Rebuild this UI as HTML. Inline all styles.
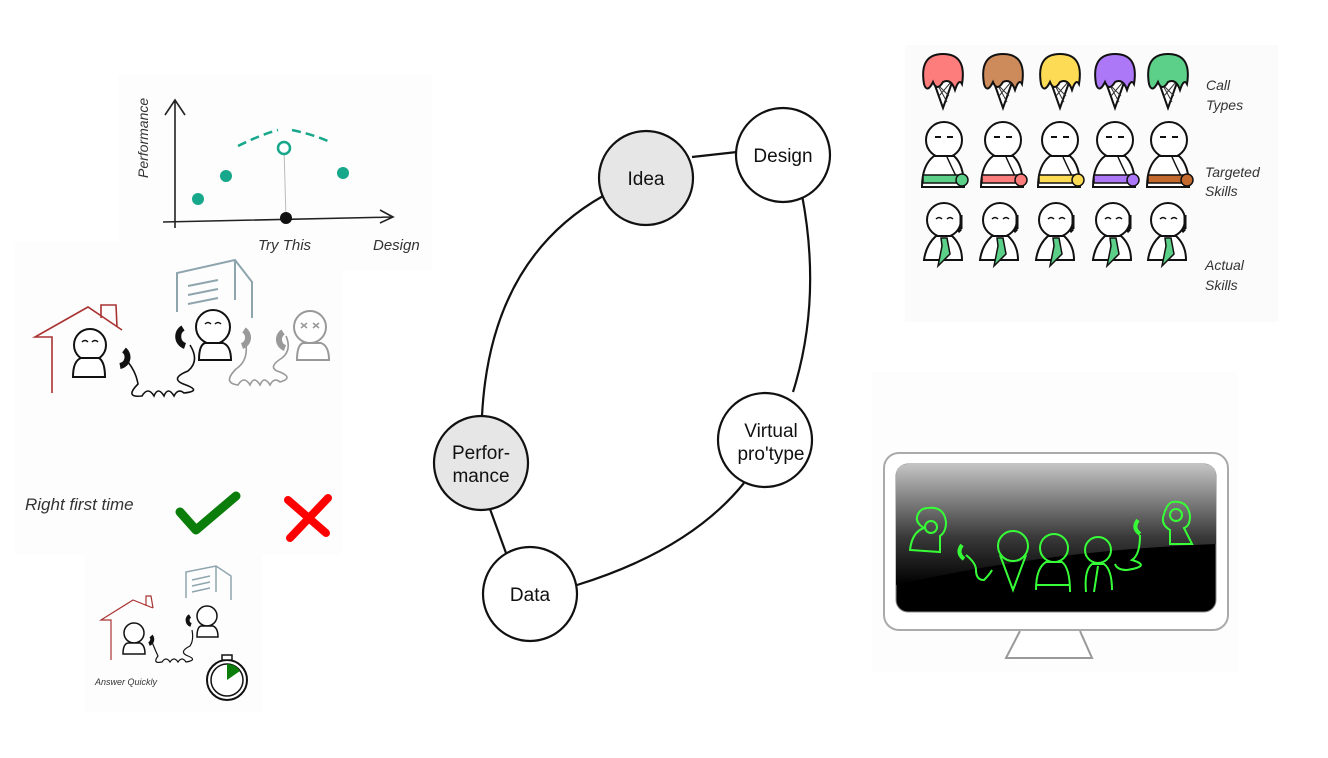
<!DOCTYPE html>
<html><head><style>
html,body{margin:0;padding:0;background:#fff;}
svg{display:block}
.hand{font-family:"Liberation Sans",sans-serif;font-style:italic;fill:#333}
.node{font-family:"Liberation Sans",sans-serif;font-size:19px;fill:#111;text-anchor:middle}
</style></head><body>
<svg width="1328" height="758" viewBox="0 0 1328 758" xmlns="http://www.w3.org/2000/svg">
<defs>
<linearGradient id="scr" x1="0" y1="0" x2="0" y2="1">
<stop offset="0" stop-color="#c4c4c4"/><stop offset="0.6" stop-color="#3a3a3a"/><stop offset="1" stop-color="#000"/>
</linearGradient>
<g id="cone">
<path d="M-12,0 L0,34 L12,0" fill="#fff" stroke="#111" stroke-width="2"/>
<path d="M-6,10 L6,22 M-4,22 L8,8 M-8,6 L4,28" stroke="#333" stroke-width="1"/>
</g>
<path id="scoop" d="M-19,30 Q-24,0 0,0 Q24,0 19,30 Q16,24 12,36 Q8,24 0,28 Q-6,38 -10,28 Q-16,40 -19,30Z" stroke="#111" stroke-width="2"/>
<g id="tperson">
<circle cx="0" cy="0" r="18" fill="#fff" stroke="#111" stroke-width="2"/>
<path d="M-9,-3 h6 M3,-3 h6" stroke="#111" stroke-width="2"/>
<path d="M-22,47 Q-22,25 -10,16 L10,16 Q20,25 20,47 Z" fill="#fff" stroke="#111" stroke-width="2"/>
<path d="M3,17 Q8,28 12,36" stroke="#111" stroke-width="1.5" fill="none"/>
</g>
<g id="aperson">
<circle cx="0" cy="0" r="17" fill="#fff" stroke="#111" stroke-width="2"/>
<path d="M-8,-1 q3,-3 6,0 M3,-1 q3,-3 6,0" stroke="#111" stroke-width="1.5" fill="none"/>
<path d="M17,-5 v14 M17,9 l-3,3" stroke="#111" stroke-width="3" fill="none"/>
<path d="M-20,40 Q-18,25 -8,16 L8,16 Q18,25 18,40 Z" fill="#fff" stroke="#111" stroke-width="2"/>
<path d="M-3,18 L3,18 L6,34 L-6,46 L-2,26 Z" fill="#5ccf88" stroke="#111" stroke-width="1.5"/>
</g>
</defs>

<!-- panel backgrounds (very faint) -->
<rect x="118" y="75" width="314" height="195" fill="#fdfdfd"/>
<rect x="15" y="242" width="327" height="313" fill="#fdfdfd"/>
<rect x="85" y="455" width="177" height="257" fill="#fdfdfd"/>
<rect x="905" y="45" width="373" height="277" fill="#fbfbfb"/>
<rect x="872" y="372" width="366" height="300" fill="#fdfdfd"/>

<!-- chart -->
<path d="M175,228 V100 M165,115 L175,100 L185,115" stroke="#222" stroke-width="1.6" fill="none"/>
<path d="M163,222 L393,217 M380,210 L393,217 L380,223" stroke="#222" stroke-width="1.6" fill="none"/>
<line x1="284" y1="148" x2="286" y2="218" stroke="#bbb" stroke-width="1"/>
<path d="M238,146 Q260,135 278,130 M292,130 Q315,135 330,142" stroke="#17a78a" stroke-width="2.5" fill="none" stroke-dasharray="9,5"/>
<circle cx="198" cy="199" r="6" fill="#17a78a"/><circle cx="226" cy="176" r="6" fill="#17a78a"/>
<circle cx="343" cy="173" r="6" fill="#17a78a"/>
<circle cx="284" cy="148" r="6" fill="#fff" stroke="#17a78a" stroke-width="2.5"/>
<circle cx="286" cy="218" r="6" fill="#111"/>
<text class="hand" x="258" y="250" font-size="15">Try This</text>
<text class="hand" x="373" y="250" font-size="15">Design</text>
<text class="hand" x="148" y="178" font-size="14" transform="rotate(-90 148 178)">Performance</text>

<!-- call panel -->
<path d="M52,393 V337 L35,337 L88,307 L122,330 M101,318 V305 L116,305 L117,327" stroke="#a33" stroke-width="1.6" fill="none"/>
<path d="M177,312 V273 L235,260 L252,282 V318 M235,260 V300 M188,286 l30,-6 M188,295 l30,-6 M188,304 l30,-6" stroke="#8fa5ae" stroke-width="2" fill="none"/>
<g stroke="#111" stroke-width="2" fill="#fff">
<circle cx="90" cy="345" r="16"/><path d="M73,377 Q73,361 81,358 L99,358 Q105,362 105,377 Z"/>
<circle cx="213" cy="327" r="17"/><path d="M199,360 Q199,345 205,343 L223,343 Q231,346 231,360 Z"/>
</g>
<path d="M82,342 q3,-3 6,0 M92,342 q3,-3 6,0 M205,324 q3,-3 6,0 M215,324 q3,-3 6,0" stroke="#111" stroke-width="1.5" fill="none"/>
<g stroke="#999" stroke-width="2" fill="#fff">
<circle cx="310" cy="327" r="16"/><path d="M297,360 Q297,345 303,343 L321,343 Q329,346 329,360 Z"/>
</g>
<path d="M301,323 l6,5 M307,323 l-6,5 M313,323 l6,5 M319,323 l-6,5" stroke="#999" stroke-width="1.5"/>
<!-- phones -->
<path d="M124,350 a9,9 0 0 1 -4,16" stroke="#111" stroke-width="6" fill="none"/>
<path d="M183,328 a10,10 0 0 0 2,18" stroke="#111" stroke-width="6" fill="none"/>
<path d="M244,330 a9,9 0 0 1 -2,16" stroke="#999" stroke-width="6" fill="none"/>
<path d="M283,332 a9,9 0 0 0 2,16" stroke="#999" stroke-width="6" fill="none"/>
<!-- cords -->
<path d="M128,362 q8,10 10,22 q-14,14 4,12 q6,-10 12,0 q4,-10 10,0 q4,-10 10,0 q4,-8 10,-3 q18,-2 2,-8 q-18,-6 2,-14 q12,-10 2,-26" stroke="#111" stroke-width="1.6" fill="none"/>
<path d="M246,345 q2,16 -10,24 q-14,14 2,16 q6,-10 12,0 q4,-10 10,0 q4,-10 10,0 q4,-8 10,-3 q14,-4 0,-10 q-14,-4 2,-14 q10,-8 4,-22" stroke="#999" stroke-width="1.6" fill="none"/>
<text class="hand" x="25" y="510" font-size="17">Right first time</text>
<path d="M180,512 L196,530 L236,496" stroke="#0a7d0a" stroke-width="9" fill="none" stroke-linecap="round" stroke-linejoin="round"/>
<path d="M290,538 L328,498 M288,500 L326,533" stroke="#f00" stroke-width="8" stroke-linecap="round"/>

<!-- small panel -->
<path d="M111,660 V620 L101,620 L133,600 L153,608 M146,606 V596 L151,596 L153,608" stroke="#a33" stroke-width="1.2" fill="none"/>
<path d="M186,598 V572 L216,566 L231,576 V600 M216,566 V592 M192,580 l18,-4 M192,586 l18,-4 M192,592 l18,-4" stroke="#8fa5ae" stroke-width="1.5" fill="none"/>
<g stroke="#111" stroke-width="1.5" fill="#fff">
<circle cx="134" cy="633" r="10"/><path d="M123,654 Q123,644 128,643 L140,643 Q145,645 145,654 Z"/>
<circle cx="207" cy="616" r="10"/><path d="M197,637 Q197,627 201,626 L213,626 Q218,628 218,637 Z"/>
<circle cx="227" cy="680" r="20" stroke-width="2"/><circle cx="227" cy="680" r="16"/>
<rect x="222" y="655" width="10" height="5"/>
</g>
<path d="M227,680 V664 A16,16 0 0 1 240,671 Z" fill="#0a7d0a"/>
<path d="M151,636 a5,5 0 0 1 -2,8 M190,616 a5,5 0 0 0 1,9" stroke="#111" stroke-width="4" fill="none"/>
<path d="M152,642 q4,10 6,14 q-6,8 4,6 q4,-6 8,0 q4,-6 8,0 q4,-6 8,0 q12,-2 2,-6 q-10,-4 2,-10 q4,-6 2,-16" stroke="#111" stroke-width="1.2" fill="none"/>
<text class="hand" x="95" y="685" font-size="9">Answer Quickly</text>

<!-- right top: cones -->
<g>
<g transform="translate(943,0)"><use href="#cone" transform="translate(0,74)"/><use href="#scoop" transform="translate(0,54)" fill="#fd7c7c"/></g>
<g transform="translate(1003,0)"><use href="#cone" transform="translate(0,74)"/><use href="#scoop" transform="translate(0,54)" fill="#cd8a5a"/></g>
<g transform="translate(1060,0)"><use href="#cone" transform="translate(0,74)"/><use href="#scoop" transform="translate(0,54)" fill="#fedb55"/></g>
<g transform="translate(1115,0)"><use href="#cone" transform="translate(0,74)"/><use href="#scoop" transform="translate(0,54)" fill="#ac78f7"/></g>
<g transform="translate(1168,0)"><use href="#cone" transform="translate(0,74)"/><use href="#scoop" transform="translate(0,54)" fill="#5ccf88"/></g>
</g>
<g>
<use href="#tperson" transform="translate(944,140)"/><rect x="923" y="175" width="36" height="8" fill="#5ccf88" stroke="#111" stroke-width="1.5"/><circle cx="962" cy="180" r="6" fill="#5ccf88" stroke="#111" stroke-width="1.5"/>
<use href="#tperson" transform="translate(1003,140)"/><rect x="982" y="175" width="36" height="8" fill="#fd7c7c" stroke="#111" stroke-width="1.5"/><circle cx="1021" cy="180" r="6" fill="#fd7c7c" stroke="#111" stroke-width="1.5"/>
<use href="#tperson" transform="translate(1060,140)"/><rect x="1039" y="175" width="36" height="8" fill="#fedb55" stroke="#111" stroke-width="1.5"/><circle cx="1078" cy="180" r="6" fill="#fedb55" stroke="#111" stroke-width="1.5"/>
<use href="#tperson" transform="translate(1115,140)"/><rect x="1094" y="175" width="36" height="8" fill="#ac78f7" stroke="#111" stroke-width="1.5"/><circle cx="1133" cy="180" r="6" fill="#ac78f7" stroke="#111" stroke-width="1.5"/>
<use href="#tperson" transform="translate(1169,140)"/><rect x="1148" y="175" width="36" height="8" fill="#c46a2e" stroke="#111" stroke-width="1.5"/><circle cx="1187" cy="180" r="6" fill="#c46a2e" stroke="#111" stroke-width="1.5"/>
</g>
<use href="#aperson" transform="translate(944,220)"/>
<use href="#aperson" transform="translate(1000,220)"/>
<use href="#aperson" transform="translate(1056,220)"/>
<use href="#aperson" transform="translate(1113,220)"/>
<use href="#aperson" transform="translate(1168,220)"/>
<text class="hand" x="1206" y="90" font-size="14">Call</text>
<text class="hand" x="1206" y="110" font-size="14">Types</text>
<text class="hand" x="1205" y="177" font-size="14">Targeted</text>
<text class="hand" x="1205" y="196" font-size="14">Skills</text>
<text class="hand" x="1205" y="270" font-size="14">Actual</text>
<text class="hand" x="1205" y="290" font-size="14">Skills</text>

<!-- monitor -->
<rect x="884" y="453" width="344" height="177" rx="15" fill="#fff" stroke="#aaa" stroke-width="2"/>
<rect x="896" y="464" width="320" height="148" rx="12" fill="#000" stroke="#888" stroke-width="1"/>
<path d="M908,464 H1204 Q1216,464 1216,476 V544 Q1050,550 896,585 V476 Q896,464 908,464 Z" fill="url(#scr)"/>
<path d="M1020,631 L1006,658 L1092,658 L1080,631" fill="#fff" stroke="#999" stroke-width="2"/>
<g stroke="#37ff37" stroke-width="2" fill="none">
<path d="M928,508 q16,-2 18,14 q0,10 -6,14 v16 l-30,-2 q2,-18 14,-22 q-10,-6 -6,-14 q3,-6 10,-6"/><circle cx="931" cy="527" r="6"/>
<path d="M962,545 q-6,8 2,14" stroke-width="4"/><path d="M966,555 q10,8 10,15 q0,10 8,10 q6,-6 8,-10"/>
<circle cx="1013" cy="546" r="15"/><path d="M1000,555 L1013,590 L1026,555"/>
<circle cx="1054" cy="548" r="14"/><path d="M1036,590 Q1036,568 1046,562 L1062,562 Q1070,568 1070,592 M1037,585 H1070"/>
<circle cx="1098" cy="550" r="13"/><path d="M1086,592 Q1084,570 1092,564 L1104,564 Q1112,570 1112,590 M1098,566 L1094,592"/>
<path d="M1138,520 q-6,8 2,14" stroke-width="4"/><path d="M1140,535 q0,20 -8,25 q20,6 -5,10 q-10,0 -12,-6"/>
<path d="M1172,502 q16,-2 18,14 q0,10 -6,12 l8,16 h-22 v-14 q-10,-6 -6,-16 q3,-10 8,-12"/><circle cx="1176" cy="515" r="6"/>
</g>

<!-- cycle connectors -->
<g stroke="#111" stroke-width="2.2" fill="none">
<path d="M692,157 L737,152"/>
<path d="M802,195 Q822,300 793,392"/>
<path d="M603,196 Q490,260 482,416"/>
<path d="M490,509 L506,553"/>
<path d="M577,585 Q690,550 744,483"/>
</g>
<g stroke="#111" stroke-width="2.2">
<circle cx="646" cy="178" r="47" fill="#e6e6e6"/>
<circle cx="783" cy="155" r="47" fill="#fff"/>
<circle cx="765" cy="440" r="47" fill="#fff"/>
<circle cx="481" cy="463" r="47" fill="#e6e6e6"/>
<circle cx="530" cy="594" r="47" fill="#fff"/>
</g>
<text class="node" x="646" y="185">Idea</text>
<text class="node" x="783" y="162">Design</text>
<text class="node" x="771" y="437">Virtual</text>
<text class="node" x="771" y="460">pro'type</text>
<text class="node" x="481" y="459">Perfor-</text>
<text class="node" x="481" y="482">mance</text>
<text class="node" x="530" y="601">Data</text>
</svg>
</body></html>
